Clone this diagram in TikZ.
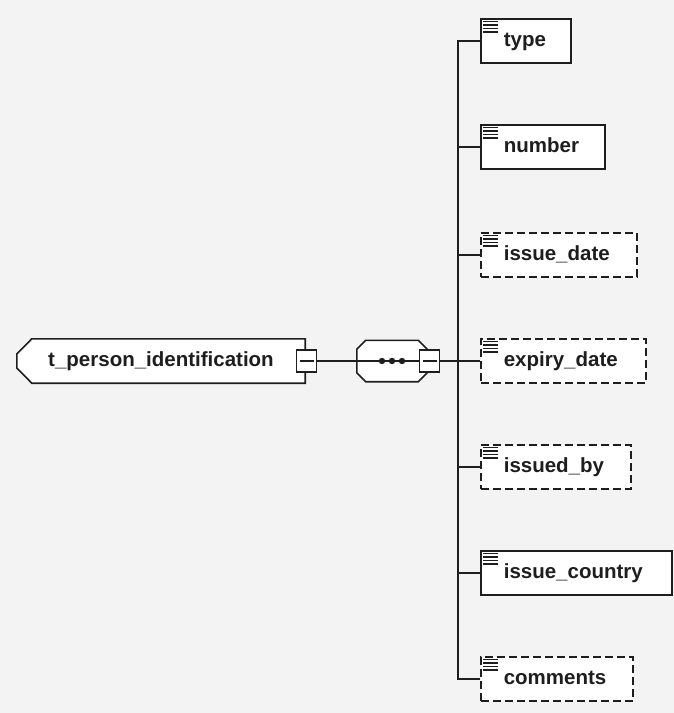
\documentclass[tikz,border=0pt]{standalone}
\usepackage{fontspec}
\setmainfont{Liberation Sans}
\usetikzlibrary{calc,backgrounds}
\definecolor{bg}{HTML}{F3F3F3}
\definecolor{ln}{HTML}{1E1E1E}
\newcommand{\ctext}[2]{\makebox[#1][l]{\hspace{23pt}#2}}
\newcommand{\docicon}[1]{\foreach \d in {3.5,7,10.5,14} \draw[line width=1.5pt, ln] ($(#1.north west)+(3,\d)$) -- ++(15,0);}
\tikzset{
  lbl/.style={font=\fontsize{20.5}{24}\selectfont\bfseries, text=ln, text height=11pt, text depth=0pt, inner sep=0pt},
  elem/.style={lbl, draw=ln, fill=white, line width=1.6pt, minimum height=44pt, anchor=west},
  opt/.style={elem, dash pattern=on 8pt off 4pt},
  conn/.style={draw=ln, line width=1.6pt},
  togglebox/.style={draw=ln, fill=white, line width=1.6pt, minimum width=20pt, minimum height=22pt, inner sep=0pt},
  outline/.style={draw=ln, fill=white, line width=1.6pt, line join=miter},
}
\begin{document}
\begin{tikzpicture}[x=1pt,y=-1pt]
\useasboundingbox (0,0) rectangle (674,713);
\begin{pgfonlayer}{background}
\fill[bg] (0,0) rectangle (674,713);
\end{pgfonlayer}

% root element
\node[lbl, minimum width=288pt, minimum height=44pt] (main) at (161,361) {t\_person\_identification};
\begin{pgfonlayer}{background}
\draw[outline] ($(main.north west)+(15,0)$) -- (main.north east) -- (main.south east)
  -- ($(main.south west)+(15,0)$) -- ($(main.west)+(0,7)$) -- ($(main.west)+(0,-7)$) -- cycle;
\end{pgfonlayer}

% sequence compositor
\node[minimum width=70pt, minimum height=41pt, inner sep=0pt] (seq) at (392,361) {};
\begin{pgfonlayer}{background}
\draw[outline] ($(seq.north west)+(9,0)$) -- ($(seq.north east)+(-9,0)$) -- ($(seq.north east)+(0,9)$)
  -- ($(seq.south east)+(0,-9)$) -- ($(seq.south east)+(-9,0)$) -- ($(seq.south west)+(9,0)$)
  -- ($(seq.south west)+(0,-9)$) -- ($(seq.north west)+(0,9)$) -- cycle;
\end{pgfonlayer}

\coordinate (mboxpos) at (306.5,361);
\coordinate (sboxpos) at (429.5,361);
\node[togglebox] (mbox) at (mboxpos) {};
\node[togglebox] (sbox) at (sboxpos) {};
\draw[conn] (mbox.east) -- (sbox.west);
\node[togglebox] (mbox) at (mboxpos) {};
\node[togglebox] (sbox) at (sboxpos) {};
\draw[conn] ($(mbox.center)+(-7,0)$) -- ($(mbox.center)+(7,0)$);
\draw[conn] ($(sbox.center)+(-7,0)$) -- ($(sbox.center)+(7,0)$);
\foreach \dx in {-10,0,10} \fill[ln] ($(seq.center)+(\dx,0)$) circle (3.2);

% trunk
\coordinate (tr) at (458,361);

% child elements
\node[elem] (type) at (480,41) {\ctext{90pt}{type}};
\node[elem] (number) at (480,147) {\ctext{124pt}{number}};
\node[opt] (idate) at (480,255) {\ctext{156pt}{issue\_date}};
\node[opt] (edate) at (480,361) {\ctext{165pt}{expiry\_date}};
\node[opt] (iby) at (480,467) {\ctext{150pt}{issued\_by}};
\node[elem] (icountry) at (480,573) {\ctext{191pt}{issue\_country}};
\node[opt] (comments) at (480,679) {\ctext{152pt}{comments}};

\foreach \n in {type,number,idate,edate,iby,icountry,comments} {\docicon{\n}}

% connectors
\draw[conn] (sbox.east) -- (tr);
\draw[conn] (type.west) -| (tr) |- (comments.west);
\foreach \n in {number,idate,edate,iby,icountry} \draw[conn] (\n.west) -- (\n.west -| tr);
\end{tikzpicture}
\end{document}
